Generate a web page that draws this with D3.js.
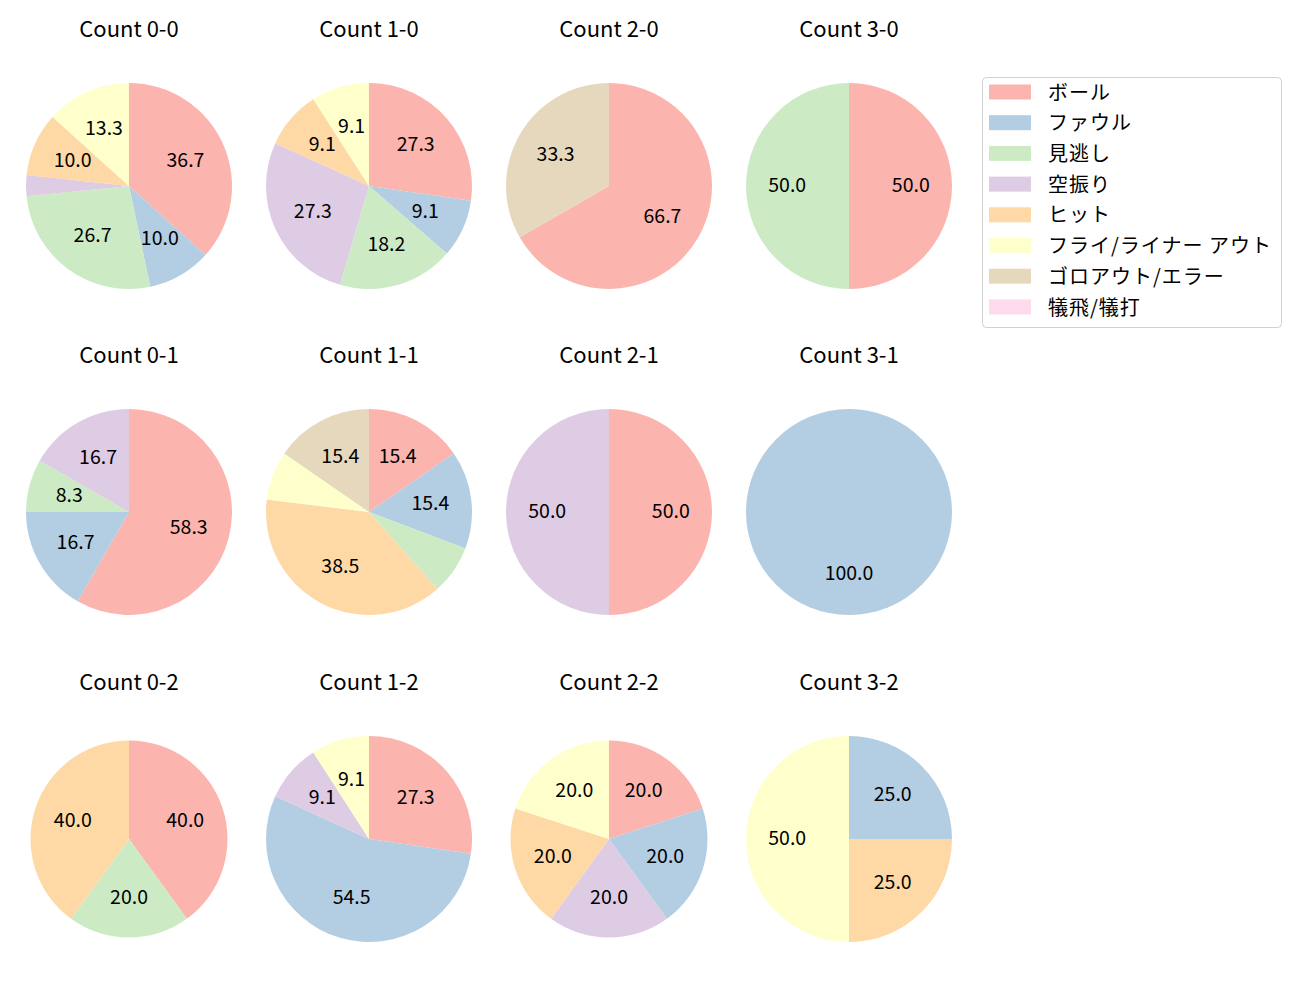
<!DOCTYPE html>
<html>
<head>
<meta charset="utf-8">
<script src="https://cdn.jsdelivr.net/npm/d3@7"></script>
<style>
  body { margin: 0; background: #fff; }
  text { font-family: "Noto Sans CJK JP", "Noto Sans", sans-serif; fill: #000; }
</style>
</head>
<body>
<div id="chart"></div>
<script>
// outcome categories (legend order)
var categories = ["ボール", "ファウル", "見逃し", "空振り", "ヒット",
    "フライ/ライナー アウト", "ゴロアウト/エラー", "犠飛/犠打"];
var colors = ["#fbb4ae", "#b3cde3", "#ccebc5", "#decbe4", "#fed9a6",
    "#ffffcc", "#e5d8bd", "#fddaec"];

// percentages per count, same order as categories
var count00 = [36.7, 10.0, 26.7, 3.3, 10.0, 13.3, 0, 0];
var count10 = [27.3, 9.1, 18.2, 27.3, 9.1, 9.1, 0, 0];
var count20 = [66.7, 0, 0, 0, 0, 0, 33.3, 0];
var count30 = [50.0, 0, 50.0, 0, 0, 0, 0, 0];
var count01 = [58.3, 16.7, 8.3, 16.7, 0, 0, 0, 0];
var count11 = [15.4, 15.4, 7.7, 0, 38.5, 7.7, 15.4, 0];
var count21 = [50.0, 0, 0, 50.0, 0, 0, 0, 0];
var count31 = [0, 100.0, 0, 0, 0, 0, 0, 0];
var count02 = [40.0, 0, 20.0, 0, 40.0, 0, 0, 0];
var count12 = [27.3, 54.5, 0, 9.1, 0, 9.1, 0, 0];
var count22 = [20.0, 20.0, 0, 20.0, 20.0, 20.0, 0, 0];
var count32 = [0, 25.0, 0, 0, 25.0, 50.0, 0, 0];

var titles = ["Count 0-0", "Count 1-0", "Count 2-0", "Count 3-0",
    "Count 0-1", "Count 1-1", "Count 2-1", "Count 3-1",
    "Count 0-2", "Count 1-2", "Count 2-2", "Count 3-2"];
var values = [count00, count10, count20, count30,
    count01, count11, count21, count31,
    count02, count12, count22, count32];

var width = 1300,
    height = 1000,
    colX = [129, 369, 609, 849],
    rowY = [186, 512, 839],
    radii = [103, 103, 103, 103, 103, 103, 103, 103, 98.5, 103, 98.5, 103];

var svg = d3.select("#chart").append("svg")
    .attr("width", width)
    .attr("height", height);

var pie = d3.pie().sort(null);
var minLabel = 8;

values.forEach(function (vals, i) {
    var cx = colX[i % 4],
        cy = rowY[Math.floor(i / 4)],
        r = radii[i];

    var g = svg.append("g")
        .attr("transform", "translate(" + cx + "," + cy + ")");

    var arc = d3.arc().innerRadius(0).outerRadius(r);
    var labelArc = d3.arc().innerRadius(r * 0.6).outerRadius(r * 0.6);

    var arcs = pie(vals).filter(function (d) { return d.value > 0; });

    g.selectAll("path")
        .data(arcs)
        .enter().append("path")
        .attr("d", arc)
        .attr("fill", function (d) { return colors[d.index]; });

    g.selectAll("text.pct")
        .data(arcs.filter(function (d) { return d.value >= minLabel; }))
        .enter().append("text")
        .attr("class", "pct")
        .attr("transform", function (d) {
            return "translate(" + labelArc.centroid(d) + ")";
        })
        .attr("text-anchor", "middle")
        .attr("dy", "0.3em")
        .attr("font-size", "19.5px")
        .text(function (d) { return d.value.toFixed(1); });

    svg.append("text")
        .attr("x", cx)
        .attr("y", cy - 157)
        .attr("text-anchor", "middle")
        .attr("dy", "0.35em")
        .attr("font-size", "22px")
        .text(titles[i]);
});

// legend
var legend = svg.append("g").attr("transform", "translate(982,77)");
legend.append("rect")
    .attr("x", 0.5).attr("y", 0.5)
    .attr("width", 299).attr("height", 250)
    .attr("rx", 4)
    .attr("fill", "#fff")
    .attr("stroke", "#d0d0d0");

var item = legend.selectAll("g.item")
    .data(categories)
    .enter().append("g")
    .attr("class", "item")
    .attr("transform", function (d, i) { return "translate(0," + (15 + i * 30.7) + ")"; });

item.append("rect")
    .attr("x", 7).attr("y", -7.5)
    .attr("width", 42).attr("height", 15)
    .attr("fill", function (d, i) { return colors[i]; });

item.append("text")
    .attr("x", 66)
    .attr("dy", "0.38em")
    .attr("font-size", "20px")
    .attr("letter-spacing", "1px")
    .text(function (d) { return d; });
</script>
</body>
</html>
